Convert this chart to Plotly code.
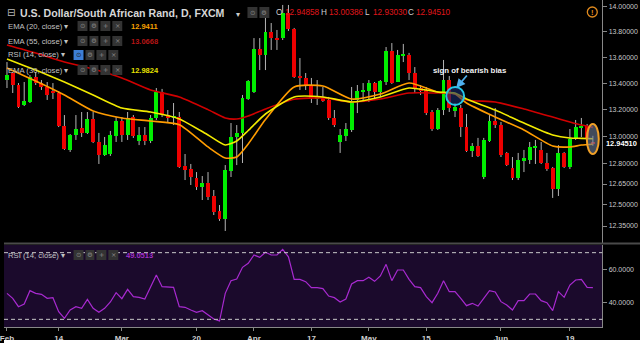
import math
import plotly.graph_objects as go

# ---------------- data ----------------
tick_idx = [0, 9, 20, 33, 43, 53, 63, 73, 86, 98]
tick_lbl = ["Feb", "14", "Mar", "20", "Apr", "17", "May", "15", "Jun", "19"]

open_ = [13.425, 13.479, 13.387, 13.235, 13.258, 13.448, 13.402, 13.372, 13.341, 13.326,
         13.077, 12.899, 13.010, 13.062, 13.025, 13.129, 12.958, 12.862, 12.869, 13.002,
         13.114, 13.010, 13.144, 12.965, 13.010, 12.965, 13.137, 13.334, 13.159, 13.144,
         13.144, 12.782, 12.759, 12.694, 12.629, 12.658, 12.564, 12.456, 12.400, 12.745,
         12.995, 13.025, 13.280, 13.334, 13.665, 13.619, 13.799, 13.751, 13.751, 13.950,
         13.823, 13.456, 13.441, 13.387, 13.280, 13.296, 13.273, 13.137, 12.958, 13.002,
         13.047, 13.273, 13.334, 13.341, 13.402, 13.334, 13.410, 13.650, 13.410, 13.611,
         13.619, 13.479, 13.364, 13.349, 13.182, 13.054, 13.197, 13.425, 13.189, 13.212,
         13.069, 12.891, 12.928, 12.701, 12.965, 13.114, 13.084, 12.877, 12.767, 12.694,
         12.818, 12.825, 12.913, 12.899, 12.803, 12.767, 12.614, 12.877, 12.774, 12.980,
         13.062, 13.077, 12.94858]
high = [13.564, 13.487, 13.402, 13.410, 13.464, 13.487, 13.425, 13.410, 13.402, 13.341,
        13.159, 13.017, 13.159, 13.182, 13.182, 13.182, 13.025, 12.995, 13.040, 13.144,
        13.144, 13.182, 13.159, 13.069, 13.069, 13.159, 13.364, 13.357, 13.197, 13.250,
        13.182, 12.869, 12.796, 12.737, 12.708, 12.737, 12.607, 12.499, 12.788, 13.099,
        13.084, 13.311, 13.425, 13.751, 13.751, 13.942, 13.870, 13.815, 14.014, 14.014,
        13.831, 13.595, 13.479, 13.441, 13.425, 13.372, 13.296, 13.197, 13.054, 13.099,
        13.372, 13.387, 13.402, 13.425, 13.410, 13.425, 13.681, 13.712, 13.658, 13.705,
        13.635, 13.525, 13.387, 13.372, 13.197, 13.212, 13.580, 13.456, 13.250, 13.235,
        13.167, 12.950, 12.988, 12.988, 13.159, 13.212, 13.107, 12.884, 12.847, 12.877,
        12.899, 12.958, 12.973, 12.958, 12.877, 12.774, 12.935, 12.884, 13.054, 13.122,
        13.137, 13.092, 13.00386]
low = [13.364, 13.326, 13.212, 13.227, 13.250, 13.387, 13.349, 13.273, 13.280, 13.069,
       12.899, 12.884, 12.973, 12.995, 13.017, 12.950, 12.796, 12.855, 12.855, 12.958,
       12.958, 12.973, 12.988, 12.935, 12.935, 12.950, 13.122, 13.144, 13.099, 13.084,
       12.767, 12.679, 12.643, 12.607, 12.535, 12.535, 12.428, 12.386, 12.315, 12.701,
       12.788, 12.803, 13.273, 13.326, 13.502, 13.502, 13.658, 13.658, 13.736, 13.807,
       13.441, 13.349, 13.349, 13.250, 13.235, 13.258, 13.122, 13.069, 12.877, 12.965,
       13.032, 13.174, 13.258, 13.258, 13.273, 13.296, 13.387, 13.395, 13.410, 13.564,
       13.425, 13.326, 13.311, 13.159, 13.040, 13.047, 13.159, 13.182, 13.144, 12.995,
       12.884, 12.847, 12.847, 12.686, 12.958, 13.062, 12.847, 12.781, 12.679, 12.679,
       12.737, 12.796, 12.796, 12.796, 12.745, 12.550, 12.564, 12.767, 12.759, 12.973,
       12.995, 12.973, 12.93030]
close = [13.464, 13.387, 13.220, 13.265, 13.448, 13.402, 13.372, 13.311, 13.326, 13.077,
         12.906, 13.010, 13.054, 13.025, 13.129, 12.958, 12.862, 12.935, 13.010, 13.114,
         13.010, 13.137, 13.002, 13.010, 12.965, 13.137, 13.334, 13.159, 13.137, 13.152,
         12.774, 12.752, 12.701, 12.629, 12.658, 12.557, 12.449, 12.400, 12.752, 12.995,
         13.025, 13.288, 13.418, 13.665, 13.619, 13.799, 13.751, 13.736, 13.950, 13.823,
         13.448, 13.441, 13.387, 13.288, 13.296, 13.265, 13.137, 13.084, 13.010, 13.054,
         13.258, 13.341, 13.349, 13.402, 13.334, 13.418, 13.650, 13.402, 13.619, 13.627,
         13.479, 13.364, 13.341, 13.174, 13.054, 13.197, 13.425, 13.212, 13.220, 13.069,
         12.891, 12.928, 12.855, 12.973, 13.114, 13.084, 12.862, 12.788, 12.694, 12.825,
         12.840, 12.921, 12.928, 12.803, 12.759, 12.614, 12.877, 12.774, 12.980, 13.069,
         13.077, 12.988, 12.94510]

rsi = [45.6, 42.6, 37.6, 39.2, 47.2, 45.6, 45.0, 42.6, 43.0, 34.6,
       30.6, 35.6, 37.6, 36.6, 42.0, 36.6, 34.2, 36.6, 40.4, 46.0,
       42.4, 48.0, 43.6, 43.2, 42.2, 49.6, 56.6, 49.6, 49.2, 49.2,
       37.6, 37.2, 35.6, 34.2, 35.2, 32.6, 30.2, 29.0, 45.6, 53.2,
       54.2, 61.2, 63.6, 68.6, 67.2, 70.2, 68.6, 68.6, 72.0, 67.5,
       54.0, 54.0, 52.6, 49.0, 49.0, 48.4, 44.0, 43.0, 40.4, 42.2,
       51.2, 53.2, 53.2, 55.2, 52.8, 56.0, 63.0, 53.2, 59.6, 59.6,
       54.0, 49.6, 49.0, 43.6, 40.0, 45.6, 53.2, 46.6, 46.6, 42.6,
       38.2, 39.6, 38.0, 42.6, 47.2, 46.4, 40.6, 38.6, 35.6, 41.2,
       41.2, 45.2, 45.2, 41.2, 40.0, 35.2, 46.6, 43.2, 50.6, 53.6,
       54.0, 49.2, 49.0513]

ema_idx = [0, 5, 10, 15, 20, 25, 30, 35, 38, 40, 42, 45, 50, 55, 60, 65, 70, 75, 78, 80, 85, 90, 95, 98, 100, 102]
ema20 = [13.518, 13.418, 13.311, 13.190, 13.137, 13.114, 13.087, 12.921, 12.840, 12.847, 12.943, 13.125, 13.372,
         13.379, 13.280, 13.318, 13.402, 13.334, 13.318, 13.250, 13.144, 13.047, 12.928, 12.921, 12.935, 12.9411]
ema30 = [13.588, 13.502, 13.410, 13.311, 13.212, 13.182, 13.130, 13.010, 12.936, 12.965, 13.043, 13.167, 13.296,
         13.296, 13.258, 13.296, 13.364, 13.334, 13.326, 13.280, 13.197, 13.099, 13.010, 12.987, 12.985, 12.9824]
ema55 = [13.697, 13.634, 13.564, 13.510, 13.441, 13.349, 13.296, 13.200, 13.137, 13.129, 13.152, 13.205, 13.278,
         13.288, 13.258, 13.280, 13.326, 13.326, 13.320, 13.273, 13.258, 13.205, 13.144, 13.107, 13.084, 13.0668]

price_ticks = [14.0, 13.8, 13.6, 13.4, 13.2, 13.0, 12.8, 12.65, 12.5, 12.35]
rsi_ticks = [40, 60]
rsi_bands = [30, 70]
resistance = 13.83
support = 13.13

# ---------------- styling ----------------
W, H = 640, 343
FONT = "Liberation Sans, Arial, sans-serif"
SYM = "DejaVu Sans, sans-serif"
UP, DN, WICK = "#00ee00", "#ee0000", "#b4b4b4"
C20, C30, C55, CRSI = "#ff9c00", "#f2ea00", "#d00000", "#a82ad0"
VALRED = "#e0161b"


def px(x):
    return x / W


def py(y):
    return 1 - y / H


N = len(close)
idx = list(range(N))

fig = go.Figure()

# wicks (outside the bodies)
wx, wy = [], []
for i in idx:
    top = max(open_[i], close[i])
    bot = min(open_[i], close[i])
    wx += [i, i, None, i, i, None]
    wy += [high[i], top, None, bot, low[i], None]
fig.add_trace(go.Scatter(x=wx, y=wy, mode="lines", line=dict(color=WICK, width=1),
                         hoverinfo="skip", xaxis="x", yaxis="y"))

# bodies
base = [min(o, c) for o, c in zip(open_, close)]
size = [max(abs(c - o), 0.006) for o, c in zip(open_, close)]
cols = [UP if c >= o else DN for o, c in zip(open_, close)]
fig.add_trace(go.Bar(x=idx, y=size, base=base, width=0.68, marker=dict(color=cols, line=dict(width=0)),
                     xaxis="x", yaxis="y"))

# EMAs
for vals, col in [(ema55, C55), (ema20, C20), (ema30, C30)]:
    fig.add_trace(go.Scatter(x=ema_idx, y=vals, mode="lines",
                             line=dict(color=col, width=1.6, shape="spline", smoothing=0.6),
                             xaxis="x", yaxis="y"))

# RSI
fig.add_trace(go.Scatter(x=idx, y=rsi, mode="lines", line=dict(color=CRSI, width=1.2),
                         xaxis="x2", yaxis="y2"))

shapes = []
ann = []

# RSI pane background
shapes.append(dict(type="rect", xref="x2 domain", yref="y2 domain", x0=0, x1=1, y0=0, y1=1,
                   fillcolor="#1b0a2c", line=dict(width=0), layer="below"))
for b in rsi_bands:
    shapes.append(dict(type="line", xref="x2 domain", yref="y2", x0=0, x1=1, y0=b, y1=b,
                       line=dict(color="#c8c8c8", width=1, dash="4px,3px")))

# level lines
shapes.append(dict(type="line", xref="x domain", yref="y", x0=0, x1=0.993,
                   y0=math.log10(resistance), y1=math.log10(resistance),
                   line=dict(color="#ee0000", width=2)))
shapes.append(dict(type="line", xref="x domain", yref="y", x0=0, x1=0.993,
                   y0=math.log10(support), y1=math.log10(support),
                   line=dict(color="#1e3cff", width=2, dash="8px,6px")))

# pane separator
shapes.append(dict(type="line", xref="paper", yref="paper", x0=0, x1=1, y0=py(243.5), y1=py(243.5),
                   line=dict(color="#4a4a4a", width=2)))
# white strip at the very bottom
shapes.append(dict(type="rect", xref="paper", yref="paper", x0=0, x1=1, y0=0, y1=py(340),
                   fillcolor="#ffffff", line=dict(width=0)))


def txt(x, y, s, color, size, bold=False, anchor="left", family=FONT):
    ann.append(dict(xref="paper", yref="paper", x=px(x), y=py(y), text=s, showarrow=False,
                    xanchor=anchor, yanchor="middle",
                    font=dict(family=family, size=size, color=color, weight=700 if bold else 400)))


def icons(x0, yc, first_blue=False):
    glyphs = ["⊙", "⚙", "+", "×"]
    offs = [(0, 10), (12, 21), (23, 33), (35, 45)]
    for k, (a, b) in enumerate(offs):
        fill = "#3d7fd6" if (first_blue and k == 0) else "#333333"
        shapes.append(dict(type="rect", xref="paper", yref="paper", x0=px(x0 + a), x1=px(x0 + b),
                           y0=py(yc + 5), y1=py(yc - 5), fillcolor=fill, line=dict(width=0)))
        txt(x0 + (a + b) / 2, yc, glyphs[k], "#1a1a1a" if (first_blue and k == 0) else "#8a8a8a", 6.5,
            anchor="center", family=SYM)


# title row
txt(1, 13, "⊟", "#bbbbbb", 10, family=SYM)
txt(14, 13, "U.S. Dollar/South African Rand, D, FXCM", "#d6d6d6", 10.6, bold=True)
txt(231, 14, "▾", "#cccccc", 8, family=SYM)
for xb in (245, 257):
    shapes.append(dict(type="rect", xref="paper", yref="paper", x0=px(xb), x1=px(xb + 10),
                       y0=py(18), y1=py(7), fillcolor="#333333", line=dict(width=0)))
    txt(xb + 5, 12.5, "⚙" if xb == 257 else "⊙", "#8a8a8a", 6.5, anchor="center", family=SYM)
o, h, l, c = open_[-1], high[-1], low[-1], close[-1]
for lx, lab, vx, v in [(272, "O", 281, o), (317, "H", 325, h), (361, "L", 369, l), (405, "C", 413, c)]:
    txt(lx, 13, lab, "#cfcfcf", 8.2)
    txt(vx, 13, f"{v:.5f}", VALRED, 8.2)

# legend rows
rows = [(26, "EMA (20, close) ▾", 74, f"{ema20[-1]:.4f}", "#f5a000"),
        (41, "EMA (55, close) ▾", 74, f"{ema55[-1]:.4f}", "#b51515"),
        (55, "RSI (14, close) ▾", 70, None, None),
        (70, "EMA (30, close) ▾", 74, f"{ema30[-1]:.4f}", "#e6e000")]
for yc, lab, bx, val, vc in rows:
    txt(2, yc, lab, "#c2c2c2", 7.7)
    icons(bx, yc, first_blue=(val is None))
    if val:
        txt(126, yc, val, vc, 7.5, bold=True)

# RSI legend
txt(2, 255, "RSI (14, close) ▾", "#c2c2c2", 7.7)
icons(70, 255)
txt(121, 255, f"{rsi[-1]:.4f}", "#a030c8", 7.5, bold=True)

# annotation: sign of bearish bias
txt(469, 70, "sign of bearish bias", "#f2f2f2", 7.8, bold=True, anchor="center")
ann.append(dict(xref="paper", yref="paper", x=px(455), y=py(88), ax=12, ay=-14, text="",
                showarrow=True, arrowhead=2, arrowsize=1, arrowwidth=1.8, arrowcolor="#4fb0ee"))
shapes.append(dict(type="circle", xref="paper", yref="paper", x0=px(445), x1=px(463), y0=py(105), y1=py(87),
                   line=dict(color="#25c8e8", width=2), fillcolor="rgba(25,45,110,0.6)"))
# ellipse around last candle
shapes.append(dict(type="circle", xref="paper", yref="paper", x0=px(586.5), x1=px(598.5), y0=py(154), y1=py(124),
                   line=dict(color="#f0a028", width=2), fillcolor="rgba(110,125,150,0.6)"))

# warning icon
shapes.append(dict(type="circle", xref="paper", yref="paper", x0=px(587), x1=px(597), y0=py(17), y1=py(7),
                   line=dict(color="#e08a1e", width=1.3)))
txt(592, 12.5, "!", "#e08a1e", 7.5, bold=True, anchor="center")

# last price label on axis
lc = math.log10(close[-1])
d = 6 / 4026.8
shapes.append(dict(type="rect", xref="paper", yref="y", x0=px(601), x1=1, y0=lc - d, y1=lc + d,
                   fillcolor="#e4141b", line=dict(width=0)))
ann.append(dict(xref="paper", yref="y", x=px(604), y=lc, text=f"{close[-1]:.5f}", showarrow=False,
                xanchor="left", yanchor="middle",
                font=dict(family=FONT, size=7.4, color="#ffffff", weight=700)))

axis_font = dict(family=FONT, size=7, color="#c8c8c8")
fig.update_layout(
    width=W, height=H, margin=dict(l=0, r=0, t=0, b=0, pad=0),
    paper_bgcolor="#000000", plot_bgcolor="#000000", showlegend=False, bargap=0,
    xaxis=dict(domain=[0, 602 / W], range=[-0.519, 103.63], showticklabels=False, showgrid=False,
               zeroline=False, anchor="y", ticks=""),
    yaxis=dict(domain=[py(244), 1], type="log", range=[1.0872, 1.147794], side="right", anchor="x",
               tickvals=price_ticks, ticktext=[f"{v:.5f}" for v in price_ticks], tickfont=axis_font,
               ticks="outside", ticklen=4, tickcolor="#888888", showline=True, linecolor="#888888",
               linewidth=1, showgrid=False, zeroline=False),
    xaxis2=dict(domain=[0, 602 / W], matches="x", anchor="y2", tickvals=tick_idx, ticktext=tick_lbl,
                tickfont=dict(family=FONT, size=8, color="#cfcfcf", weight=700), ticks="outside",
                ticklen=3, tickcolor="#888888", showline=True, linecolor="#888888", linewidth=1,
                showgrid=False, zeroline=False, ticklabeloverflow="allow"),
    yaxis2=dict(domain=[py(327), py(245)], range=[25.4, 74.6], side="right", anchor="x2",
                tickvals=rsi_ticks, ticktext=[f"{v:.4f}" for v in rsi_ticks], tickfont=axis_font,
                ticks="outside", ticklen=4, tickcolor="#888888", showline=True, linecolor="#888888",
                linewidth=1, showgrid=False, zeroline=False),
    shapes=shapes, annotations=ann,
)

fig.write_html("out.html")
